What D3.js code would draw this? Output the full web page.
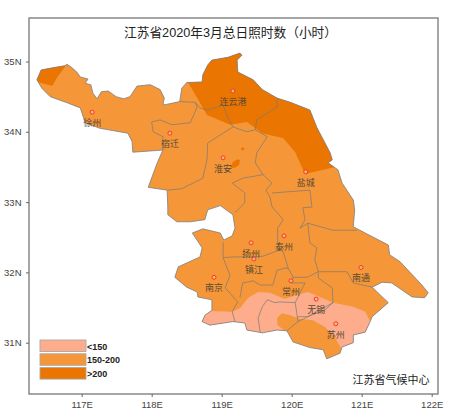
<!DOCTYPE html>
<html>
<head>
<meta charset="utf-8">
<script src="https://cdn.jsdelivr.net/npm/d3@7"></script>
<style>
  body { margin: 0; background: #fff; }
  text { font-family: "Liberation Sans", "Noto Sans CJK SC", sans-serif; }
</style>
</head>
<body>
<svg id="plot"></svg>
<script>
// all shapes are [lon, lat]
const lonTicks = [117, 118, 119, 120, 121, 122];
const latTicks = [35, 34, 33, 32, 31];

const province = [[116.36,34.74],[116.42,34.88],[116.58,34.91],[116.76,34.94],[116.79,34.96],[116.85,34.92],[116.93,34.85],[116.98,34.78],[117.09,34.75],[117.05,34.69],[117.13,34.67],[117.16,34.55],[117.22,34.47],[117.28,34.57],[117.38,34.58],[117.49,34.50],[117.60,34.47],[117.69,34.50],[117.79,34.65],[117.98,34.67],[118.12,34.60],[118.18,34.48],[118.16,34.38],[118.26,34.40],[118.40,34.43],[118.43,34.62],[118.50,34.70],[118.72,34.71],[118.73,34.81],[118.80,34.95],[118.86,35.02],[119.09,35.06],[119.26,35.12],[119.29,35.09],[119.22,35.02],[119.23,34.85],[119.45,34.74],[119.58,34.60],[119.79,34.48],[119.98,34.42],[120.26,34.31],[120.36,34.06],[120.55,33.70],[120.58,33.60],[120.52,33.56],[120.66,33.46],[120.72,33.27],[120.88,33.03],[120.90,32.89],[120.88,32.65],[121.05,32.56],[121.38,32.39],[121.40,32.25],[121.55,32.15],[121.86,31.82],[121.95,31.71],[121.90,31.64],[121.72,31.65],[121.43,31.85],[121.29,31.86],[121.15,31.79],[121.38,31.57],[121.15,31.37],[121.12,31.30],[121.05,31.15],[120.88,31.11],[120.88,31.00],[120.72,30.94],[120.69,30.85],[120.50,30.77],[120.45,30.90],[120.26,30.93],[120.02,31.01],[119.93,31.17],[119.79,31.18],[119.58,31.14],[119.36,31.18],[119.33,31.28],[119.16,31.30],[118.83,31.25],[118.72,31.30],[118.76,31.39],[118.86,31.46],[118.86,31.61],[118.66,31.65],[118.65,31.72],[118.50,31.79],[118.33,31.93],[118.38,32.08],[118.69,32.22],[118.72,32.35],[118.58,32.56],[118.73,32.62],[118.98,32.56],[119.03,32.46],[119.15,32.52],[119.19,32.63],[119.16,32.82],[118.98,32.95],[118.80,32.89],[118.76,32.75],[118.55,32.72],[118.36,32.72],[118.23,32.82],[118.23,32.93],[118.22,33.17],[117.95,33.21],[118.08,33.56],[118.16,33.74],[117.73,33.71],[117.72,33.86],[117.66,33.98],[117.26,34.05],[117.05,34.13],[116.98,34.34],[116.80,34.41],[116.55,34.50],[116.43,34.62]];

// city borders inside the province
const borders = [
  [[118.00,34.14],[118.12,34.17],[118.29,34.10],[118.55,34.13],[118.65,34.35],[118.62,34.42],[118.40,34.43]],
  [[118.00,34.14],[118.02,34.00],[118.16,33.93],[118.16,33.74]],
  [[118.62,34.42],[118.69,34.34],[118.79,34.31],[119.02,34.38],[119.09,34.20],[119.16,34.07],[119.36,34.00],[119.48,34.03],[119.50,34.17],[119.79,34.35],[119.79,34.48]],
  [[119.16,34.07],[118.80,33.84],[118.79,33.60],[118.73,33.34],[118.43,33.19],[118.23,33.17]],
  [[119.48,34.03],[119.65,33.93],[119.50,33.70],[119.48,33.56],[119.59,33.39]],
  [[119.59,33.39],[119.30,33.34],[119.15,33.27],[119.33,33.13],[119.33,32.99],[119.19,32.85]],
  [[119.59,33.39],[119.72,33.27],[119.63,33.17],[119.69,33.07],[119.72,32.93],[119.88,32.75],[119.80,32.63],[119.80,32.43],[119.83,32.32]],
  [[119.72,33.13],[120.26,33.17],[120.29,32.93],[120.16,32.92],[120.19,32.75],[120.12,32.63]],
  [[120.12,32.63],[120.23,32.70],[120.59,32.60],[120.93,32.60]],
  [[120.23,32.70],[120.26,32.42],[120.36,32.35],[120.33,32.18],[120.38,32.01]],
  [[119.83,32.32],[119.88,32.29],[119.95,32.06],[120.02,31.93],[120.22,31.93],[120.38,32.01],[120.79,32.01],[120.88,31.85],[121.15,31.79]],
  [[119.02,32.43],[119.02,32.21],[119.16,32.22],[119.36,32.22],[119.59,32.23],[119.83,32.32]],
  [[119.02,32.21],[119.05,32.13],[119.12,31.96],[119.05,31.78],[119.23,31.58],[119.15,31.44],[119.19,31.30]],
  [[119.26,31.64],[119.30,31.85],[119.45,31.88],[119.55,31.82],[119.73,31.82],[119.79,32.03],[119.90,32.06],[119.95,32.06]],
  [[120.02,31.93],[120.00,31.85],[120.19,31.85],[120.12,31.71],[120.05,31.57],[120.08,31.37],[120.09,31.30]],
  [[119.55,31.15],[119.52,31.35],[119.58,31.51],[119.65,31.61],[119.76,31.57],[119.83,31.58],[120.05,31.57]],
  [[120.38,32.01],[120.38,31.92],[120.58,31.78],[120.59,31.57],[120.48,31.47],[120.23,31.37],[120.08,31.37]],
  [[119.93,31.17],[120.09,31.30],[120.19,31.35],[120.59,31.57]]
];

// sunshine zones, cut to the province shape
const zoneLow = [
  [[118.65,31.45],[118.83,31.45],[119.15,31.44],[119.26,31.49],[119.38,31.64],[119.52,31.72],[119.69,31.71],[119.90,31.62],[120.08,31.68],[120.23,31.72],[120.43,31.64],[120.59,31.57],[120.88,31.51],[121.05,31.44],[121.12,31.30],[121.33,31.25],[121.33,30.90],[120.72,30.90],[120.62,31.07],[120.48,31.22],[120.30,31.32],[120.12,31.34],[119.98,31.39],[119.86,31.42],[119.79,31.35],[119.80,31.25],[119.90,31.17],[119.93,30.97],[118.62,30.97]]
];
const zoneHigh = [
  [[116.23,35.02],[116.80,35.02],[116.76,34.92],[116.66,34.79],[116.58,34.65],[116.48,34.68],[116.23,34.74]],
  [[118.52,34.70],[118.65,34.48],[118.79,34.24],[119.12,34.10],[119.36,34.14],[119.58,33.98],[119.88,33.91],[120.05,33.71],[120.19,33.40],[120.62,33.50],[121.26,33.50],[121.26,35.31],[118.40,35.31],[118.40,34.70]],
  [[119.13,33.49],[119.16,33.57],[119.23,33.61],[119.26,33.60],[119.25,33.53],[119.19,33.49]],
  [[119.30,33.78],[119.33,33.76],[119.30,33.73],[119.27,33.76]]
];

const cityNames = ["徐州", "宿迁", "淮安", "连云港", "盐城", "扬州", "泰州", "镇江", "南京", "常州", "南通", "无锡", "苏州"];
const cityLon = [117.15, 118.26, 119.02, 119.16, 120.20, 119.42, 119.89, 119.46, 118.89, 119.99, 120.99, 120.35, 120.63];
const cityLat = [34.28, 33.98, 33.63, 34.58, 33.43, 32.42, 32.52, 32.19, 31.93, 31.88, 32.07, 31.62, 31.27];

const legendLabels = ["<150", "150-200", ">200"];
const legendColors = ["#fdad8b", "#f59738", "#ea7500"];

const svg = d3.select("#plot")
    .attr("width", 453)
    .attr("height", 417)
    .style("display", "block");

const xScale = d3.scaleLinear().domain([117, 122]).range([81.7, 431.7]);
const yScale = d3.scaleLinear().domain([35, 31]).range([61.5, 342.7]);

const shape = d3.line().x(d => xScale(d[0])).y(d => yScale(d[1]));
const closed = pts => shape(pts) + "Z";

svg.append("clipPath").attr("id", "jiangsu")
    .append("path").attr("d", closed(province));

// province base colour
svg.append("path")
    .attr("d", closed(province))
    .attr("fill", legendColors[1]);

const zones = svg.append("g").attr("clip-path", "url(#jiangsu)");
zones.selectAll(".low").data(zoneLow).enter().append("path")
    .attr("class", "low")
    .attr("d", closed)
    .attr("fill", legendColors[0]);
zones.selectAll(".high").data(zoneHigh).enter().append("path")
    .attr("class", "high")
    .attr("d", closed)
    .attr("fill", legendColors[2]);

svg.selectAll(".border").data(borders).enter().append("path")
    .attr("class", "border")
    .attr("d", shape)
    .attr("fill", "none")
    .attr("stroke", "#787878")
    .attr("stroke-width", 0.7);

svg.append("path")
    .attr("d", closed(province))
    .attr("fill", "none")
    .attr("stroke", "#7c7d80")
    .attr("stroke-width", 0.8);

// cities
svg.selectAll(".city").data(cityNames).enter().append("circle")
    .attr("class", "city")
    .attr("cx", (d, i) => xScale(cityLon[i]))
    .attr("cy", (d, i) => yScale(cityLat[i]))
    .attr("r", 2)
    .attr("fill", "#fdb08e")
    .attr("stroke", "#f23c1c")
    .attr("stroke-width", 1);

svg.selectAll(".city-label").data(cityNames).enter().append("text")
    .attr("class", "city-label")
    .attr("x", (d, i) => xScale(cityLon[i]))
    .attr("y", (d, i) => yScale(cityLat[i]) + 14)
    .attr("text-anchor", "middle")
    .attr("font-size", 9)
    .attr("fill", "#5c4a36")
    .text(d => d);

// frame and axes
svg.append("rect")
    .attr("x", 29)
    .attr("y", 18)
    .attr("width", 409)
    .attr("height", 376)
    .attr("fill", "none")
    .attr("stroke", "#808080")
    .attr("stroke-width", 1.4);

const xAxis = svg.append("g")
    .attr("transform", "translate(0,394)")
    .call(d3.axisBottom(xScale).tickValues(lonTicks).tickSize(3).tickPadding(4).tickFormat(d => d + "E"));
const yAxis = svg.append("g")
    .attr("transform", "translate(29,0)")
    .call(d3.axisLeft(yScale).tickValues(latTicks).tickSize(3).tickPadding(4.5).tickFormat(d => d + "N"));
[xAxis, yAxis].forEach(function (axis) {
    axis.select(".domain").remove();
    axis.selectAll("line").attr("stroke", "#666");
    axis.selectAll("text")
        .attr("fill", "#444")
        .style("font-family", "Liberation Sans")
        .style("font-size", "9.5px");
});

// title and footer
svg.append("text")
    .attr("x", 230.5)
    .attr("y", 37)
    .attr("text-anchor", "middle")
    .attr("font-size", 12.7)
    .attr("fill", "#222")
    .text("江苏省2020年3月总日照时数（小时）");

svg.append("text")
    .attr("x", 391)
    .attr("y", 384)
    .attr("text-anchor", "middle")
    .attr("font-size", 11)
    .attr("fill", "#222")
    .text("江苏省气候中心");

// legend
const legend = svg.selectAll(".legend").data(legendLabels).enter().append("g")
    .attr("class", "legend")
    .attr("transform", (d, i) => `translate(40,${340 + i * 13.8})`);
legend.append("rect")
    .attr("width", 46)
    .attr("height", 11.5)
    .attr("fill", (d, i) => legendColors[i])
    .attr("stroke", "#a8a8a8")
    .attr("stroke-width", 0.9);
legend.append("text")
    .attr("x", 47)
    .attr("y", 9.5)
    .attr("font-size", 9)
    .attr("font-weight", "bold")
    .attr("fill", "#222")
    .text(d => d);
</script>
</body>
</html>
